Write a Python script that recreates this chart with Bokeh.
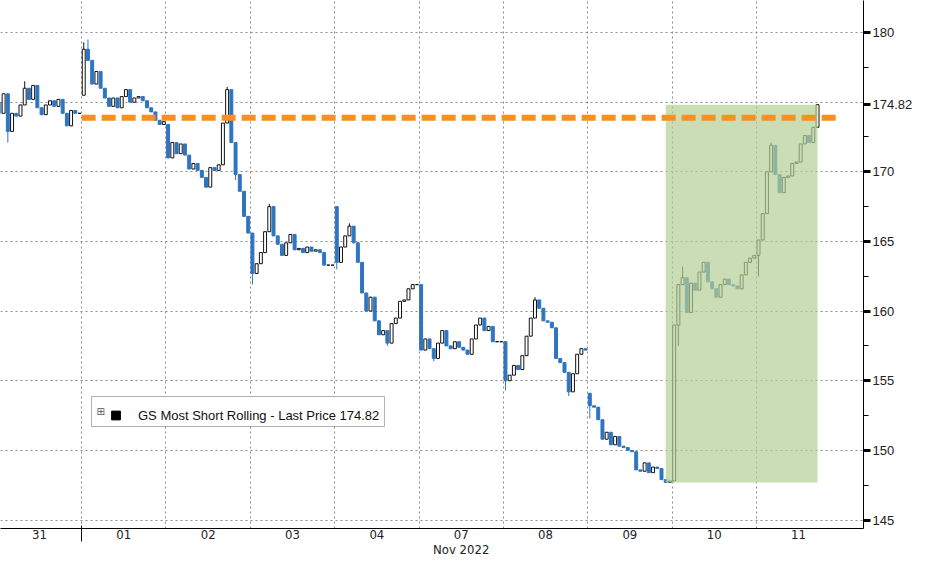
from bokeh.plotting import figure
from bokeh.models import (FixedTicker, Label, Legend, LegendItem, Range1d, ColumnDataSource,
                          LinearAxis, BoxAnnotation)
from bokeh.embed import file_html
from bokeh.resources import INLINE

# ---------------- data ----------------
days = ["31", "01", "02", "03", "04", "07", "08", "09", "10", "11"]
month_label = "Nov 2022"
series_name = "GS Most Short Rolling - Last Price 174.82"
last_price = 174.82
ref_level = 173.88
y_ticks = [145, 150, 155, 160, 165, 170, 175, 180]
y_minor = [147.5, 152.5, 157.5, 162.5, 167.5, 172.5, 177.5]

# first open of each session
day_open = [175.0, 175.5, 173.4, 165.6, 167.5, 161.9, 157.8, 154.1, 147.8, 164.0]

# closes of the intraday bars of each session
close_31 = [174.2, 175.6, 172.9, 174.2, 174.0, 174.8, 176.0, 175.2, 176.2, 174.6,
            174.1, 174.8, 175.1, 174.7, 175.2, 174.2, 173.3, 174.4, 174.2, 174.2]
close_01 = [178.8, 178.0, 176.3, 177.2, 176.0, 175.3, 174.7, 175.3, 174.6, 175.4,
            175.9, 175.0, 175.3, 175.4, 175.1, 174.6, 174.3, 173.7, 173.4, 173.6]
close_02 = [171.0, 172.1, 171.3, 172.0, 171.2, 170.2, 170.6, 170.1, 169.6, 168.9,
            170.3, 170.1, 170.5, 173.5, 175.9, 172.1, 169.8, 168.6, 166.8, 165.6]
close_03 = [162.7, 163.4, 164.2, 165.7, 167.5, 165.4, 164.8, 164.0, 164.9, 165.5,
            164.4, 164.5, 164.2, 164.6, 164.3, 164.4, 164.2, 163.3, 163.3, 163.3]
close_04 = [163.5, 164.6, 165.4, 166.1, 164.9, 163.5, 161.3, 160.0, 161.0, 159.3,
            158.3, 158.6, 157.7, 159.1, 159.5, 160.7, 160.8, 161.6, 161.9, 161.9]
close_07 = [157.2, 158.0, 157.3, 156.6, 157.7, 158.6, 157.5, 157.3, 157.8, 157.4,
            157.2, 156.9, 158.0, 159.0, 159.5, 158.6, 158.9, 157.8, 157.8, 157.8]
close_08 = [155.0, 155.4, 156.1, 155.8, 156.8, 158.2, 159.5, 160.8, 160.2, 159.3,
            159.2, 158.8, 156.6, 156.3, 155.6, 154.2, 155.5, 156.9, 157.3, 157.2]
close_09 = [153.2, 153.1, 152.2, 150.8, 151.3, 150.4, 151.0, 150.3, 150.2, 150.0,
            149.9, 148.6, 148.5, 149.1, 148.4, 148.8, 148.7, 147.9, 147.7, 147.8]
close_10 = [159.0, 161.9, 162.4, 159.9, 162.0, 161.5, 162.8, 163.5, 162.1, 161.6,
            161.0, 161.9, 162.3, 161.9, 161.8, 161.6, 162.6, 163.5, 163.8, 164.0]
close_11 = [165.1, 167.0, 170.0, 171.9, 169.8, 168.5, 169.6, 169.7, 170.6, 170.7,
            172.0, 172.6, 172.1, 173.2, 174.82]

# wick extremes that go beyond the bar bodies: (session, bar, value)
wick_high = [("31", 6, 176.5), ("01", 0, 179.3), ("01", 1, 179.5), ("02", 14, 176.1),
             ("03", 4, 167.7), ("04", 3, 166.3), ("08", 7, 161.0), ("10", 2, 163.2),
             ("11", 3, 172.1)]
wick_low = [("31", 2, 172.1), ("02", 16, 169.4), ("03", 0, 161.9), ("04", 0, 163.0),
            ("04", 12, 157.5), ("07", 3, 156.4), ("08", 0, 154.3), ("08", 15, 153.9),
            ("09", 0, 152.3), ("10", 1, 157.5), ("11", 0, 162.5)]

# ---------------- build bars ----------------
BARS_PER_DAY = 20
day_closes = [close_31, close_01, close_02, close_03, close_04,
              close_07, close_08, close_09, close_10, close_11]
hi_over = {(d, k): v for d, k, v in wick_high}
lo_over = {(d, k): v for d, k, v in wick_low}

UP_LINE, DOWN_COLOR = "#111111", "#2f74c0"
xs, tops, bots, his, los, fills, lines, wcols = [], [], [], [], [], [], [], []
closes_all, lows_all = [], []
for di, (d, closes, o0) in enumerate(zip(days, day_closes, day_open)):
    prev = o0
    for k, c in enumerate(closes):
        o = prev
        h = max(o, c, hi_over.get((d, k), -1e9))
        l = min(o, c, lo_over.get((d, k), 1e9))
        xs.append(di + (k + 0.5) / BARS_PER_DAY)
        tops.append(max(o, c))
        bots.append(min(o, c))
        his.append(h)
        los.append(l)
        if c < o:
            fills.append(DOWN_COLOR); lines.append(DOWN_COLOR); wcols.append(DOWN_COLOR)
        else:
            fills.append("white"); lines.append(UP_LINE); wcols.append(UP_LINE)
        closes_all.append(c)
        lows_all.append(l)
        prev = c

src = ColumnDataSource(dict(x=xs, top=tops, bottom=bots, high=his, low=los,
                            fill=fills, line=lines, wcol=wcols))

# ---------------- figure ----------------
p = figure(width=915, height=559,
           x_range=Range1d(0.038, 10.27), y_range=Range1d(144.39, 182.30),
           y_axis_location="right", output_backend="svg", toolbar_location=None,
           min_border_left=0, min_border_top=0, min_border_right=49, min_border_bottom=31)
p.background_fill_color = "white"
p.border_fill_color = "white"
p.outline_line_color = None

# grids
p.xgrid.ticker = FixedTicker(ticks=list(range(1, len(days))))
p.ygrid.ticker = FixedTicker(ticks=y_ticks)
for g in (p.xgrid, p.ygrid):
    g.grid_line_color = "#8a8a8a"
    g.grid_line_dash = "2 3"
    g.grid_line_width = 1

# legend frame (drawn beneath the marks, above the grid)
p.add_layout(BoxAnnotation(left=91, right=384, bottom=102, top=132,
                           left_units="screen", right_units="screen",
                           top_units="screen", bottom_units="screen",
                           fill_color="white", fill_alpha=1,
                           line_color="black", line_width=1, level="underlay"))

# candles
p.segment(x0="x", y0="low", x1="x", y1="high", line_color="wcol", line_width=1, source=src)
p.vbar(x="x", width=0.7 / BARS_PER_DAY, top="top", bottom="bottom",
       fill_color="fill", line_color="line", line_width=1, source=src)

# highlighted rebound box: from the low to the last price
imin = min(range(len(lows_all)), key=lambda i: lows_all[i])
p.quad(left=[xs[imin]], right=[xs[-1]], bottom=[lows_all[imin]], top=[closes_all[-1]],
       fill_color="#b5cf95", fill_alpha=0.7, line_color=None)

# reference level (dashed orange)
p.line([1.0, 9.945], [ref_level, ref_level], line_color="#f6901e", line_width=6,
       line_dash="14 6")

# x axes: session labels, then month label with the month separator
LABEL_FONT = "DejaVu Sans Condensed"
xa = p.xaxis[0]
centers = [i + 0.5 for i in range(len(days))]
xa.ticker = FixedTicker(ticks=centers)
xa.major_label_overrides = {c: d for c, d in zip(centers, days)}
xa.major_tick_line_color = None
xa.major_tick_out = 0
xa.minor_tick_line_color = None
xa.axis_line_color = "black"
xa.major_label_standoff = 1
xa.major_label_text_font = LABEL_FONT
xa.major_label_text_font_size = "13px"
xa.major_label_text_color = "#222222"

month_axis = LinearAxis(ticker=FixedTicker(ticks=[5.5], minor_ticks=[1.0]),
                        major_label_overrides={5.5: month_label},
                        axis_line_color=None, major_tick_line_color=None,
                        major_tick_out=0, minor_tick_out=0, minor_tick_in=16,
                        minor_tick_line_color="black", major_label_standoff=0,
                        major_label_text_font=LABEL_FONT,
                        major_label_text_font_size="13px",
                        major_label_text_color="#222222")
p.add_layout(month_axis, "below")

# right price axis (the last price replaces the 175 label)
axis_ticks = [145, 150, 155, 160, 165, 170, last_price, 180]
ya = p.yaxis[0]
ya.ticker = FixedTicker(ticks=axis_ticks, minor_ticks=y_minor)
ya.major_label_overrides = {t: (f"{t:.2f}" if t == last_price else str(int(t))) for t in axis_ticks}
ya.major_tick_in = 0
ya.major_tick_out = 7
ya.major_tick_line_width = 3
ya.major_tick_line_color = "black"
ya.minor_tick_in = 0
ya.minor_tick_out = 5
ya.minor_tick_line_color = "black"
ya.axis_line_color = "black"
ya.major_label_standoff = 2
ya.major_label_text_font = "Liberation Sans"
ya.major_label_text_font_size = "13px"
ya.major_label_text_color = "#222222"

# small expand icon inside the legend frame
p.add_layout(Label(x=96, y=117, x_units="screen", y_units="screen", text="⊞",
                   text_align="left", text_baseline="middle", text_font="DejaVu Sans",
                   text_font_size="10px", text_color="#555555"))

# legend (transparent; frame drawn above)
leg_r = p.scatter([-10], [100], marker="square", fill_color="black", line_color="black")
legend = Legend(items=[LegendItem(label=series_name, renderers=[leg_r])],
                location=(95, 102), padding=4, margin=0, spacing=0,
                glyph_width=41, glyph_height=22, label_standoff=2, label_height=22,
                label_text_font="Liberation Sans", label_text_font_size="13px",
                label_text_color="#111111",
                border_line_color=None, background_fill_alpha=0)
p.add_layout(legend)

open("out.html", "w").write(file_html(p, INLINE))
